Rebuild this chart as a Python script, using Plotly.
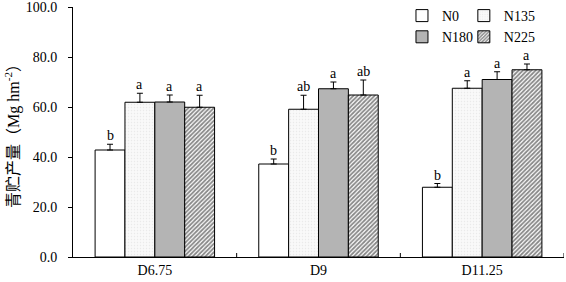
import plotly.graph_objects as go

categories = ["D6.75", "D9", "D11.25"]
series_names = ["N0", "N135", "N180", "N225"]
values = {
    "N0":   [42.8, 37.2, 27.9],
    "N135": [61.9, 59.1, 67.5],
    "N180": [62.0, 67.3, 71.0],
    "N225": [59.9, 64.8, 74.9],
}
errors = {
    "N0":   [2.3, 2.0, 1.5],
    "N135": [3.6, 5.6, 3.0],
    "N180": [2.8, 2.7, 3.1],
    "N225": [4.8, 6.0, 2.3],
}
letters = {
    "N0":   ["b", "b", "b"],
    "N135": ["a", "ab", "a"],
    "N180": ["a", "a", "a"],
    "N225": ["a", "ab", "a"],
}
ytick_vals = [0, 20, 40, 60, 80, 100]

styles = {
    "N0":   dict(color="white"),
    "N135": dict(color="#f6f6f6", pattern=dict(shape=".", fgcolor="#dcdcdc", bgcolor="#f9f9f9", size=3, solidity=0.2)),
    "N180": dict(color="#b4b4b4"),
    "N225": dict(color="white", pattern=dict(shape="/", fgcolor="#111111", bgcolor="white", size=3, solidity=0.6)),
}
legend_of = {"N0": "legend", "N180": "legend", "N135": "legend2", "N225": "legend2"}

font_family = "Liberation Serif, Times New Roman, Noto Sans CJK SC"
bargap = 0.27

fig = go.Figure()
for name in series_names:
    fig.add_trace(go.Bar(
        name=name,
        x=list(range(len(categories))),
        y=values[name],
        marker=dict(line=dict(color="black", width=1), **styles[name]),
        error_y=dict(type="data", symmetric=False, array=errors[name],
                     arrayminus=[0] * len(categories), color="black",
                     thickness=1, width=3),
        legend=legend_of[name],
    ))

bw = (1 - bargap) / len(series_names)
annotations = []
for i, name in enumerate(series_names):
    off = (i - (len(series_names) - 1) / 2) * bw
    for j in range(len(categories)):
        annotations.append(dict(
            x=j + off, y=values[name][j] + errors[name][j], xref="x", yref="y",
            text=letters[name][j], showarrow=False, yanchor="bottom", yshift=-1,
            font=dict(family=font_family, size=14, color="black"),
        ))

fig.update_layout(
    width=566, height=282,
    margin=dict(l=73, r=2, t=7, b=25, autoexpand=False),
    paper_bgcolor="white", plot_bgcolor="white",
    barmode="group", bargap=bargap, bargroupgap=0,
    font=dict(family=font_family, size=14, color="black"),
    annotations=annotations,
    legend=dict(x=0.67, y=1.028, xanchor="left", yanchor="top",
                font=dict(size=14), tracegroupgap=0, bgcolor="rgba(0,0,0,0)",
                itemwidth=30),
    legend2=dict(x=0.796, y=1.028, xanchor="left", yanchor="top",
                 font=dict(size=14), tracegroupgap=0, bgcolor="rgba(0,0,0,0)",
                 itemwidth=30),
)
fig.update_xaxes(
    type="linear", range=[-0.5, len(categories) - 0.5],
    tickmode="array", tickvals=list(range(len(categories))), ticktext=categories,
    ticks="", showline=True, linecolor="black", linewidth=1,
    showgrid=False, zeroline=False, tickfont=dict(size=14), automargin=False,
)
# boundary ticks on the category axis (inside)
for b in range(1, len(categories) + 1):
    fig.add_shape(type="line", xref="x", yref="paper", x0=b - 0.5, x1=b - 0.5,
                  y0=0, y1=0.016, line=dict(color="black", width=1))
fig.update_yaxes(
    range=[0, 100], tickvals=ytick_vals, tickformat=".1f",
    ticks="outside", ticklen=4, tickcolor="black", ticklabelstandoff=8,
    ticklabeloverflow="allow",
    showline=True, linecolor="black", linewidth=1,
    showgrid=False, zeroline=False, tickfont=dict(size=14), automargin=False,
    title=dict(text="青贮产量（Mg hm<sup>-2</sup>）", font=dict(size=16), standoff=2),
)
# remove the default 8px page margin so the figure fills the window exactly
fig.write_html("out.html", config={"displayModeBar": False},
               post_script="document.body.style.margin='0';")
